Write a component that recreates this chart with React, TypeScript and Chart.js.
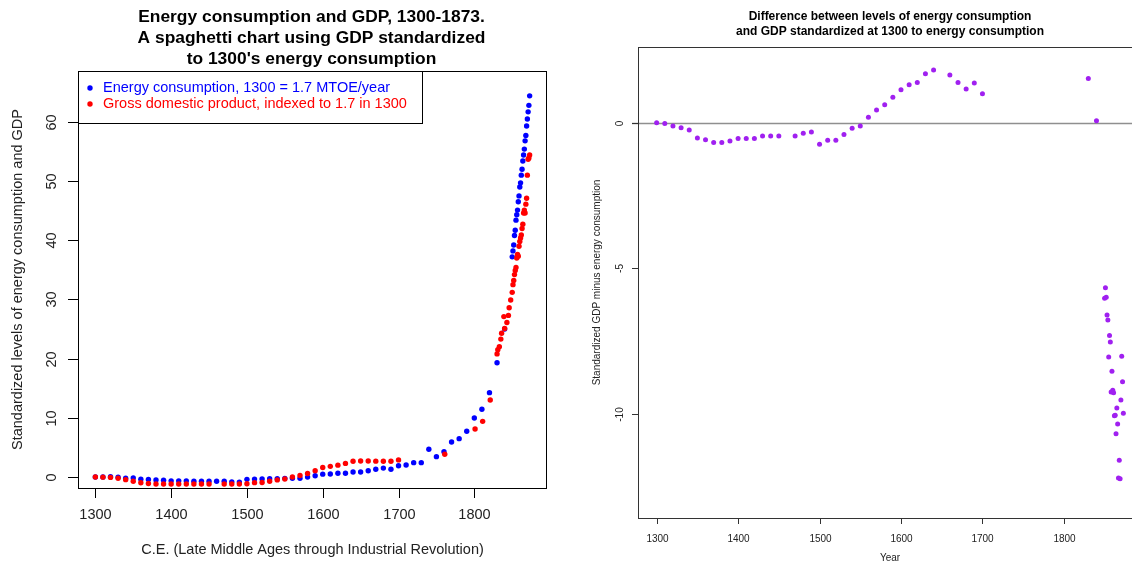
import React, { useEffect, useRef } from "react";
import { Chart, registerables } from "chart.js";
Chart.register(...registerables);

const FONT = '"Liberation Sans", Arial, sans-serif';

// ---------- Left chart data ----------
const energyYears = [
  1300, 1310, 1320, 1330, 1340, 1350, 1360, 1370, 1380, 1390, 1400, 1410, 1420, 1430, 1440, 1450,
  1460, 1470, 1480, 1490, 1500, 1510, 1520, 1530, 1540, 1550, 1560, 1570, 1580, 1590, 1600, 1610,
  1620, 1630, 1640, 1650, 1660, 1670, 1680, 1690, 1700, 1710, 1720, 1730, 1740, 1750, 1760, 1770,
  1780, 1790, 1800, 1810, 1820, 1830, 1840,
  1850, 1851, 1852, 1853, 1854, 1855, 1856, 1857, 1858, 1859, 1860, 1861, 1862, 1863, 1864, 1865,
  1866, 1867, 1868, 1869, 1870, 1871, 1872, 1873,
];
const energyValues = [
  0.0, 0.0, 0.04, -0.05, -0.2, -0.18, -0.39, -0.42, -0.5, -0.55, -0.65, -0.65, -0.65, -0.72, -0.72, -0.72,
  -0.72, -0.72, -0.82, -0.86, -0.4, -0.36, -0.32, -0.3, -0.3, -0.23, -0.2, -0.2, -0.02, 0.2, 0.48, 0.5,
  0.62, 0.62, 0.85, 0.85, 1.06, 1.3, 1.5, 1.3, 1.9, 2.03, 2.42, 2.42, 4.68, 3.44, 4.28, 5.92,
  6.48, 7.72, 9.97, 11.44, 14.25, 19.3, 25.0,
  37.2, 38.2, 39.2, 40.8, 41.7, 43.4, 44.3, 45.1, 46.5, 47.5, 49.0, 49.7, 51.0, 52.0, 53.4, 54.4,
  55.4, 56.8, 57.7, 59.3, 60.5, 61.7, 62.8, 64.4,
];

const gdpYears = [
  1300, 1310, 1320, 1330, 1340, 1350, 1360, 1370, 1380, 1390, 1400, 1410, 1420, 1430, 1440, 1450,
  1470, 1480, 1490, 1500, 1510, 1520, 1530, 1540, 1550, 1560, 1570, 1580, 1590, 1600, 1610, 1620,
  1630, 1640, 1650, 1660, 1670, 1680, 1690, 1700, 1761, 1801, 1811, 1821,
  1830, 1831, 1833, 1835, 1836, 1839, 1840, 1843, 1845, 1846, 1848,
  1850, 1851, 1852, 1853, 1854, 1855, 1856, 1857, 1858, 1859, 1860, 1861, 1862, 1863, 1864, 1865,
  1866, 1867, 1868, 1869, 1870, 1871, 1872, 1873,
];
const gdpValues = [
  0.0, -0.03, -0.07, -0.22, -0.45, -0.71, -0.98, -1.1, -1.18, -1.18, -1.19, -1.19, -1.19, -1.18, -1.18, -1.18,
  -1.18, -1.18, -1.18, -1.14, -0.96, -0.92, -0.71, -0.49, -0.34, -0.01, 0.24, 0.6, 1.07, 1.61, 1.8, 2.0,
  2.3, 2.66, 2.7, 2.7, 2.68, 2.66, 2.66, 2.89, 3.85, 8.1, 9.4, 13.0,
  20.8, 21.5, 22.0, 23.3, 24.3, 27.1, 25.1, 26.1, 27.3, 28.6, 29.9,
  31.2, 32.5, 33.2, 34.2, 34.9, 35.4, 37.0, 37.6, 37.3, 39.0, 39.8, 40.4, 40.9, 42.0, 42.7, 44.6,
  45.1, 44.6, 46.1, 47.1, 51.0, 53.7, 53.9, 54.4,
];

// ---------- Right chart data ----------
const diffYears = [
  1300, 1310, 1320, 1330, 1340, 1350, 1360, 1370, 1380, 1390, 1400, 1410, 1420, 1430, 1440, 1450,
  1470, 1480, 1490, 1500, 1510, 1520, 1530, 1540, 1550, 1560, 1570, 1580, 1590, 1600, 1610, 1620,
  1630, 1640, 1660, 1670, 1680, 1690, 1700, 1830, 1840,
  1850, 1851, 1852, 1853, 1854, 1855, 1856, 1857, 1858, 1859, 1860, 1861, 1862, 1863, 1864, 1865,
  1866, 1867, 1868, 1869, 1870, 1871, 1872, 1873,
];
const diffValues = [
  0.0, -0.03, -0.11, -0.17, -0.25, -0.53, -0.59, -0.68, -0.68, -0.63, -0.54, -0.54, -0.54, -0.46, -0.46, -0.46,
  -0.46, -0.36, -0.32, -0.74, -0.6, -0.6, -0.41, -0.19, -0.11, 0.19, 0.44, 0.62, 0.87, 1.13, 1.3, 1.38,
  1.68, 1.81, 1.64, 1.38, 1.16, 1.36, 0.99, 1.52, 0.07,
  -6.03, -5.67, -6.0, -6.61, -6.78, -8.05, -7.31, -7.53, -9.25, -8.54, -9.19, -9.28, -10.07, -10.05, -10.69, -9.8,
  -10.35, -12.21, -11.6, -12.23, -9.53, -8.02, -8.9, -9.98,
];

// ---------- Ticks and text ----------
const xTicks = [1300, 1400, 1500, 1600, 1700, 1800];
const leftYTicks = [0, 10, 20, 30, 40, 50, 60];
const rightYTicks = [-10, -5, 0];

const leftTitle = [
  "Energy consumption and GDP, 1300-1873.",
  "A spaghetti chart using GDP standardized",
  "to 1300's energy consumption",
];
const leftXTitle = "C.E. (Late Middle Ages through Industrial Revolution)";
const leftYTitle = "Standardized levels of energy consumption and GDP";
const legendLabels = [
  "Energy consumption, 1300 = 1.7 MTOE/year",
  "Gross domestic product, indexed to 1.7 in 1300",
];
const rightTitle = [
  "Difference between levels of energy consumption",
  "and GDP standardized at 1300 to energy consumption",
];
const rightXTitle = "Year";
const rightYTitle = "Standardized GDP minus energy consumption";

const BLUE = "#0000FF";
const RED = "#FF0000";
const PURPLE = "#A020F0";

const toPoints = (xs: number[], ys: number[]) => xs.map((x, i) => ({ x, y: ys[i] }));

const leftDecor = {
  id: "leftDecor",
  afterDraw(chart: any) {
    const { ctx, chartArea: a } = chart;
    const xs = chart.scales.x;
    const ys = chart.scales.y;
    ctx.save();
    ctx.strokeStyle = "#000";
    ctx.lineWidth = 1;
    ctx.strokeRect(a.left + 0.5, a.top + 0.5, a.right - a.left - 1, a.bottom - a.top);
    ctx.fillStyle = "#222";
    ctx.font = `14.5px ${FONT}`;
    ctx.textAlign = "center";
    ctx.textBaseline = "middle";
    xTicks.forEach((v) => {
      const px = Math.round(xs.getPixelForValue(v)) + 0.5;
      ctx.beginPath();
      ctx.moveTo(px, a.bottom);
      ctx.lineTo(px, a.bottom + 10);
      ctx.stroke();
      ctx.fillText(String(v), px, 515);
    });
    leftYTicks.forEach((v) => {
      const py = Math.round(ys.getPixelForValue(v)) + 0.5;
      ctx.beginPath();
      ctx.moveTo(a.left - 10, py);
      ctx.lineTo(a.left, py);
      ctx.stroke();
      ctx.save();
      ctx.translate(52, py);
      ctx.rotate(-Math.PI / 2);
      ctx.fillText(String(v), 0, 0);
      ctx.restore();
    });
    const cx = (a.left + a.right) / 2;
    const cy = (a.top + a.bottom) / 2;
    ctx.fillText(leftXTitle, cx, 550);
    ctx.save();
    ctx.translate(18, cy);
    ctx.rotate(-Math.PI / 2);
    ctx.fillText(leftYTitle, 0, 0);
    ctx.restore();
    ctx.fillStyle = "#000";
    ctx.font = `bold 17.4px ${FONT}`;
    leftTitle.forEach((t, i) => ctx.fillText(t, cx - 1, 17 + i * 21));
    ctx.fillStyle = "#fff";
    ctx.fillRect(a.left + 1, a.top + 1, 343, 51);
    ctx.strokeRect(a.left + 0.5, a.top + 0.5, 344, 52);
    const colors = [BLUE, RED];
    ctx.font = `14.5px ${FONT}`;
    ctx.textAlign = "left";
    legendLabels.forEach((t, i) => {
      const ly = 88 + i * 16;
      ctx.fillStyle = colors[i];
      ctx.beginPath();
      ctx.arc(90, ly, 2.7, 0, Math.PI * 2);
      ctx.fill();
      ctx.fillText(t, 103, ly);
    });
    ctx.restore();
  },
};

const rightDecor = {
  id: "rightDecor",
  beforeDatasetsDraw(chart: any) {
    const { ctx, chartArea: a } = chart;
    const ys = chart.scales.y;
    const y0 = Math.round(ys.getPixelForValue(0)) + 0.5;
    ctx.save();
    ctx.strokeStyle = "#8f8f8f";
    ctx.lineWidth = 1.5;
    ctx.beginPath();
    ctx.moveTo(a.left - 6, y0);
    ctx.lineTo(a.right, y0);
    ctx.stroke();
    ctx.restore();
  },
  afterDraw(chart: any) {
    const { ctx, chartArea: a } = chart;
    const xs = chart.scales.x;
    const ys = chart.scales.y;
    ctx.save();
    ctx.strokeStyle = "#333";
    ctx.lineWidth = 1;
    ctx.strokeRect(a.left + 0.5, a.top + 0.5, a.right - a.left, a.bottom - a.top);
    ctx.fillStyle = "#222";
    ctx.font = `10px ${FONT}`;
    ctx.textAlign = "center";
    ctx.textBaseline = "middle";
    xTicks.forEach((v) => {
      const px = Math.round(xs.getPixelForValue(v)) + 0.5;
      ctx.beginPath();
      ctx.moveTo(px, a.bottom);
      ctx.lineTo(px, a.bottom + 6);
      ctx.stroke();
      ctx.fillText(String(v), px, 539);
    });
    rightYTicks.forEach((v) => {
      const py = Math.round(ys.getPixelForValue(v)) + 0.5;
      ctx.beginPath();
      ctx.moveTo(a.left - 6, py);
      ctx.lineTo(a.left, py);
      ctx.stroke();
      ctx.save();
      ctx.translate(54, py);
      ctx.rotate(-Math.PI / 2);
      ctx.fillText(String(v), 0, 0);
      ctx.restore();
    });
    const cx = (a.left + a.right) / 2;
    const cy = (a.top + a.bottom) / 2;
    ctx.fillText(rightXTitle, cx, 558);
    ctx.save();
    ctx.translate(31, cy);
    ctx.rotate(-Math.PI / 2);
    ctx.fillText(rightYTitle, 0, 0);
    ctx.restore();
    ctx.fillStyle = "#000";
    ctx.font = `bold 12px ${FONT}`;
    rightTitle.forEach((t, i) => ctx.fillText(t, cx, 17 + i * 14.5));
    ctx.restore();
  },
};

const hiddenScale = (min: number, max: number, step: number, fit: (s: any) => void) => ({
  type: "linear" as const,
  min,
  max,
  ticks: { display: false, stepSize: step, includeBounds: false },
  grid: { display: false },
  border: { display: false },
  afterFit: fit,
});

export default function App() {
  const leftRef = useRef<HTMLCanvasElement>(null);
  const rightRef = useRef<HTMLCanvasElement>(null);

  useEffect(() => {
    const left = new Chart(leftRef.current as HTMLCanvasElement, {
      type: "scatter",
      data: {
        datasets: [
          {
            label: "GDP",
            data: toPoints(gdpYears, gdpValues),
            pointRadius: 2.7,
            pointBackgroundColor: RED,
            pointBorderWidth: 0,
            order: 1,
          },
          {
            label: "Energy",
            data: toPoints(energyYears, energyValues),
            pointRadius: 2.7,
            pointBackgroundColor: BLUE,
            pointBorderWidth: 0,
            order: 2,
          },
        ],
      },
      options: {
        animation: false,
        responsive: false,
        devicePixelRatio: 1,
        events: [],
        layout: { padding: { left: 0, right: 19, top: 71, bottom: 0 } },
        plugins: { legend: { display: false }, title: { display: false }, tooltip: { enabled: false } },
        scales: {
          x: {
            ...hiddenScale(1277.1, 1895.9, 100, (s: any) => {
              s.height = 76;
              s.paddingLeft = 0;
              s.paddingRight = 0;
            }),
            position: "bottom",
          },
          y: {
            ...hiddenScale(-1.86, 68.6, 10, (s: any) => {
              s.width = 78;
              s.paddingTop = 0;
              s.paddingBottom = 0;
            }),
            position: "left",
          },
        },
      },
      plugins: [leftDecor],
    } as any);

    const right = new Chart(rightRef.current as HTMLCanvasElement, {
      type: "scatter",
      data: {
        datasets: [
          {
            label: "Difference",
            data: toPoints(diffYears, diffValues),
            pointRadius: 2.5,
            pointBackgroundColor: PURPLE,
            pointBorderWidth: 0,
          },
        ],
      },
      options: {
        animation: false,
        responsive: false,
        devicePixelRatio: 1,
        events: [],
        layout: { padding: { left: 0, right: 24, top: 47, bottom: 0 } },
        plugins: { legend: { display: false }, title: { display: false }, tooltip: { enabled: false } },
        scales: {
          x: {
            ...hiddenScale(1277.1, 1895.9, 100, (s: any) => {
              s.height = 46;
              s.paddingLeft = 0;
              s.paddingRight = 0;
            }),
            position: "bottom",
          },
          y: {
            ...hiddenScale(-13.58, 2.6, 5, (s: any) => {
              s.width = 72;
              s.paddingTop = 0;
              s.paddingBottom = 0;
            }),
            position: "left",
          },
        },
      },
      plugins: [rightDecor],
    } as any);

    return () => {
      left.destroy();
      right.destroy();
    };
  }, []);

  return (
    <div
      style={{
        position: "fixed",
        left: 0,
        top: 0,
        width: 1132,
        height: 564,
        overflow: "hidden",
        background: "#fff",
      }}
    >
      <canvas
        ref={leftRef}
        width={566}
        height={564}
        style={{ position: "absolute", left: 0, top: 0, width: 566, height: 564 }}
      />
      <canvas
        ref={rightRef}
        width={600}
        height={564}
        style={{ position: "absolute", left: 566, top: 0, width: 600, height: 564 }}
      />
    </div>
  );
}
